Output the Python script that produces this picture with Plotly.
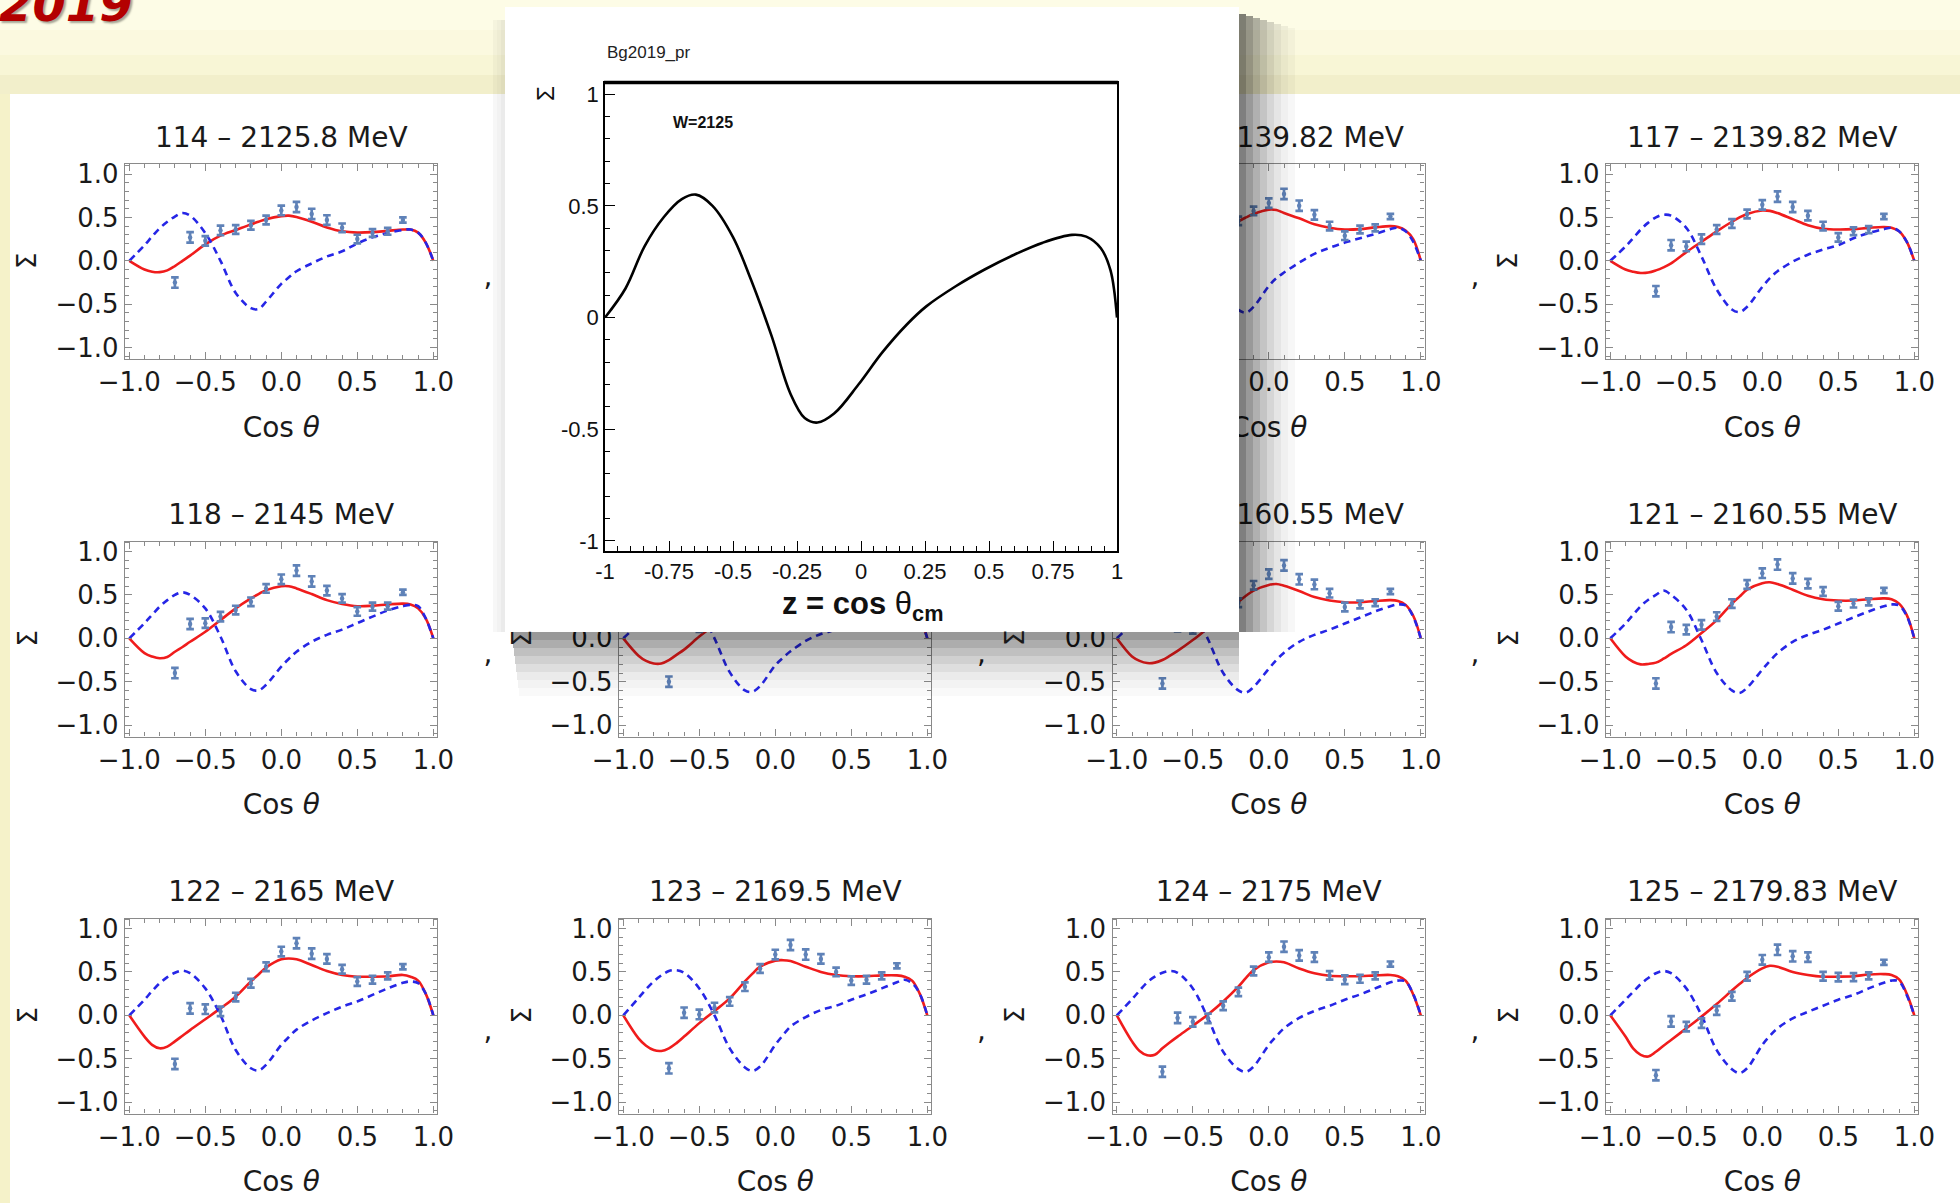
import plotly.graph_objects as go

W, H = 1960, 1203

# ---------------- data ----------------
CURVE_X = [-1, -0.9, -0.85, -0.8, -0.75, -0.7, -0.65, -0.6, -0.5, -0.4, -0.3, -0.2, -0.15, -0.1,
           0, 0.05, 0.1, 0.2, 0.3, 0.4, 0.5, 0.6, 0.7, 0.8, 0.85, 0.9, 0.95, 1.0]
DATA_X = [-0.7, -0.6, -0.5, -0.4, -0.3, -0.2, -0.1, 0.0, 0.1, 0.2, 0.3, 0.4, 0.5, 0.6, 0.7, 0.8]
DATA_ERR = [0.06, 0.06, 0.055, 0.055, 0.05, 0.05, 0.05, 0.055, 0.06, 0.06, 0.055, 0.05, 0.05, 0.045, 0.04, 0.03]

TITLES = ["114 – 2125.8 MeV", "115 – 2130 MeV", "116 – 2139.82 MeV", "117 – 2139.82 MeV",
          "118 – 2145 MeV", "119 – 2150 MeV", "120 – 2160.55 MeV", "121 – 2160.55 MeV",
          "122 – 2165 MeV", "123 – 2169.5 MeV", "124 – 2175 MeV", "125 – 2179.83 MeV"]
X_LABEL = "Cos <i>θ</i>"
Y_LABEL = "Σ"

RED_114 = [0, -0.10, -0.125, -0.13, -0.11, -0.06, 0.0, 0.06, 0.19, 0.29, 0.355, 0.42, 0.45, 0.48, 0.515, 0.52, 0.505, 0.45, 0.385, 0.34, 0.325, 0.33, 0.345, 0.36, 0.36, 0.325, 0.21, 0]
RED_115 = [0, -0.10, -0.125, -0.135, -0.12, -0.085, -0.04, 0.01, 0.14, 0.25, 0.35, 0.44, 0.475, 0.51, 0.55, 0.55, 0.53, 0.465, 0.40, 0.355, 0.34, 0.345, 0.36, 0.375, 0.37, 0.335, 0.215, 0]
RED_116 = [0, -0.09, -0.115, -0.13, -0.125, -0.10, -0.065, -0.02, 0.11, 0.23, 0.345, 0.455, 0.50, 0.54, 0.59, 0.585, 0.55, 0.49, 0.42, 0.38, 0.36, 0.365, 0.385, 0.40, 0.39, 0.35, 0.25, 0]
RED_117 = [0, -0.10, -0.125, -0.14, -0.135, -0.11, -0.075, -0.03, 0.10, 0.22, 0.34, 0.45, 0.50, 0.54, 0.58, 0.575, 0.55, 0.48, 0.41, 0.37, 0.36, 0.365, 0.38, 0.39, 0.38, 0.34, 0.22, 0]
RED_118 = [0, -0.17, -0.21, -0.23, -0.215, -0.155, -0.10, -0.04, 0.075, 0.21, 0.345, 0.46, 0.51, 0.555, 0.60, 0.60, 0.575, 0.51, 0.44, 0.395, 0.37, 0.375, 0.39, 0.40, 0.39, 0.345, 0.23, 0]
RED_119 = [0, -0.20, -0.26, -0.29, -0.29, -0.25, -0.19, -0.13, 0.02, 0.155, 0.29, 0.43, 0.50, 0.56, 0.62, 0.625, 0.605, 0.54, 0.47, 0.425, 0.40, 0.40, 0.415, 0.425, 0.415, 0.37, 0.25, 0]
RED_120 = [0, -0.21, -0.26, -0.285, -0.28, -0.25, -0.20, -0.145, -0.02, 0.12, 0.27, 0.42, 0.49, 0.55, 0.615, 0.625, 0.605, 0.545, 0.475, 0.435, 0.415, 0.415, 0.43, 0.44, 0.43, 0.385, 0.26, 0]
RED_121 = [0, -0.21, -0.27, -0.30, -0.295, -0.28, -0.235, -0.18, -0.08, 0.06, 0.21, 0.40, 0.48, 0.56, 0.635, 0.645, 0.625, 0.56, 0.49, 0.45, 0.435, 0.435, 0.45, 0.46, 0.45, 0.40, 0.27, 0]
RED_122 = [0, -0.245, -0.34, -0.38, -0.36, -0.30, -0.235, -0.17, -0.045, 0.08, 0.215, 0.39, 0.47, 0.55, 0.645, 0.655, 0.645, 0.58, 0.51, 0.465, 0.445, 0.445, 0.45, 0.465, 0.445, 0.40, 0.25, 0]
RED_123 = [0, -0.265, -0.35, -0.40, -0.41, -0.38, -0.32, -0.245, -0.09, 0.05, 0.195, 0.39, 0.48, 0.56, 0.63, 0.635, 0.625, 0.56, 0.50, 0.465, 0.45, 0.45, 0.46, 0.46, 0.445, 0.40, 0.25, 0]
RED_124 = [0, -0.30, -0.41, -0.46, -0.455, -0.38, -0.31, -0.245, -0.12, 0.01, 0.16, 0.33, 0.43, 0.52, 0.61, 0.62, 0.61, 0.54, 0.485, 0.455, 0.45, 0.45, 0.46, 0.465, 0.45, 0.40, 0.24, 0]
RED_125 = [0, -0.245, -0.38, -0.455, -0.475, -0.42, -0.35, -0.285, -0.15, -0.015, 0.13, 0.285, 0.36, 0.43, 0.54, 0.57, 0.56, 0.50, 0.465, 0.445, 0.445, 0.45, 0.47, 0.475, 0.465, 0.415, 0.25, 0]

BLUE_114 = [0, 0.18, 0.28, 0.375, 0.45, 0.51, 0.55, 0.52, 0.32, 0.0, -0.37, -0.545, -0.555, -0.47, -0.265, -0.19, -0.12, -0.03, 0.05, 0.11, 0.20, 0.27, 0.32, 0.355, 0.36, 0.325, 0.21, 0]
BLUE_115 = [0, 0.175, 0.27, 0.37, 0.445, 0.505, 0.54, 0.52, 0.35, 0.01, -0.35, -0.55, -0.57, -0.50, -0.28, -0.195, -0.125, -0.02, 0.06, 0.12, 0.19, 0.265, 0.32, 0.36, 0.37, 0.33, 0.215, 0]
BLUE_116 = [0, 0.17, 0.265, 0.365, 0.445, 0.505, 0.535, 0.52, 0.37, 0.04, -0.34, -0.565, -0.595, -0.53, -0.29, -0.20, -0.135, -0.02, 0.08, 0.15, 0.21, 0.26, 0.31, 0.365, 0.38, 0.34, 0.22, 0]
BLUE_117 = [0, 0.165, 0.26, 0.36, 0.44, 0.50, 0.53, 0.52, 0.38, 0.05, -0.33, -0.56, -0.59, -0.53, -0.30, -0.20, -0.12, -0.01, 0.07, 0.13, 0.18, 0.26, 0.32, 0.365, 0.38, 0.34, 0.22, 0]
BLUE_118 = [0, 0.175, 0.27, 0.365, 0.44, 0.50, 0.53, 0.50, 0.345, 0.02, -0.38, -0.585, -0.60, -0.535, -0.325, -0.235, -0.155, -0.04, 0.04, 0.10, 0.175, 0.25, 0.32, 0.37, 0.385, 0.37, 0.23, 0]
BLUE_119 = [0, 0.17, 0.27, 0.365, 0.44, 0.50, 0.53, 0.50, 0.34, 0.0, -0.39, -0.60, -0.615, -0.55, -0.31, -0.225, -0.15, -0.03, 0.05, 0.10, 0.17, 0.24, 0.31, 0.37, 0.385, 0.375, 0.24, 0]
BLUE_120 = [0, 0.17, 0.27, 0.37, 0.445, 0.50, 0.54, 0.50, 0.33, -0.01, -0.40, -0.60, -0.625, -0.56, -0.35, -0.25, -0.165, -0.04, 0.04, 0.10, 0.17, 0.24, 0.31, 0.37, 0.39, 0.38, 0.25, 0]
BLUE_121 = [0, 0.17, 0.27, 0.37, 0.445, 0.50, 0.55, 0.50, 0.33, -0.02, -0.40, -0.60, -0.63, -0.57, -0.36, -0.26, -0.17, -0.04, 0.04, 0.10, 0.17, 0.24, 0.31, 0.37, 0.39, 0.38, 0.26, 0]
BLUE_122 = [0, 0.18, 0.28, 0.37, 0.44, 0.49, 0.515, 0.485, 0.31, 0.0, -0.40, -0.61, -0.635, -0.57, -0.34, -0.25, -0.165, -0.06, 0.025, 0.10, 0.16, 0.235, 0.31, 0.375, 0.39, 0.37, 0.25, 0]
BLUE_123 = [0, 0.20, 0.30, 0.39, 0.46, 0.51, 0.52, 0.49, 0.31, 0.0, -0.38, -0.60, -0.64, -0.59, -0.34, -0.23, -0.13, -0.02, 0.06, 0.11, 0.18, 0.24, 0.31, 0.38, 0.41, 0.37, 0.25, 0]
BLUE_124 = [0, 0.185, 0.285, 0.38, 0.445, 0.49, 0.51, 0.49, 0.31, -0.035, -0.42, -0.62, -0.65, -0.59, -0.34, -0.24, -0.15, -0.03, 0.05, 0.11, 0.18, 0.24, 0.31, 0.38, 0.40, 0.39, 0.245, 0]
BLUE_125 = [0, 0.18, 0.27, 0.36, 0.43, 0.485, 0.51, 0.485, 0.31, 0.0, -0.40, -0.62, -0.665, -0.61, -0.34, -0.235, -0.15, -0.035, 0.04, 0.11, 0.18, 0.235, 0.31, 0.375, 0.40, 0.39, 0.235, 0]

DATA_114 = [-0.25, 0.27, 0.23, 0.35, 0.36, 0.41, 0.47, 0.58, 0.62, 0.54, 0.47, 0.38, 0.25, 0.32, 0.34, 0.47]
DATA_115 = [-0.28, 0.25, 0.20, 0.30, 0.36, 0.43, 0.50, 0.62, 0.68, 0.58, 0.50, 0.39, 0.26, 0.33, 0.35, 0.49]
DATA_116 = [-0.30, 0.21, 0.18, 0.27, 0.36, 0.46, 0.575, 0.665, 0.77, 0.635, 0.53, 0.40, 0.29, 0.36, 0.38, 0.51]
DATA_117 = [-0.35, 0.18, 0.165, 0.25, 0.36, 0.43, 0.54, 0.645, 0.74, 0.62, 0.52, 0.40, 0.27, 0.34, 0.36, 0.51]
DATA_118 = [-0.40, 0.165, 0.175, 0.25, 0.325, 0.42, 0.575, 0.68, 0.78, 0.655, 0.55, 0.46, 0.31, 0.365, 0.37, 0.53]
DATA_119 = [-0.50, 0.15, 0.13, 0.20, 0.28, 0.42, 0.60, 0.72, 0.82, 0.68, 0.60, 0.50, 0.34, 0.38, 0.40, 0.54]
DATA_120 = [-0.52, 0.14, 0.11, 0.17, 0.26, 0.41, 0.61, 0.74, 0.84, 0.68, 0.62, 0.52, 0.36, 0.39, 0.41, 0.54]
DATA_121 = [-0.52, 0.13, 0.10, 0.155, 0.25, 0.40, 0.62, 0.75, 0.85, 0.69, 0.63, 0.54, 0.37, 0.40, 0.42, 0.55]
DATA_122 = [-0.56, 0.08, 0.07, 0.045, 0.21, 0.37, 0.56, 0.735, 0.83, 0.71, 0.65, 0.53, 0.39, 0.41, 0.455, 0.56]
DATA_123 = [-0.61, 0.03, 0.01, 0.09, 0.16, 0.33, 0.54, 0.70, 0.81, 0.70, 0.65, 0.50, 0.40, 0.41, 0.455, 0.57]
DATA_124 = [-0.65, -0.03, -0.075, -0.035, 0.11, 0.27, 0.51, 0.67, 0.79, 0.69, 0.67, 0.46, 0.41, 0.42, 0.455, 0.59]
DATA_125 = [-0.69, -0.07, -0.13, -0.09, 0.055, 0.22, 0.45, 0.64, 0.755, 0.68, 0.67, 0.45, 0.44, 0.44, 0.455, 0.61]

RED = [RED_114, RED_115, RED_116, RED_117, RED_118, RED_119, RED_120, RED_121, RED_122, RED_123, RED_124, RED_125]
BLUE = [BLUE_114, BLUE_115, BLUE_116, BLUE_117, BLUE_118, BLUE_119, BLUE_120, BLUE_121, BLUE_122, BLUE_123, BLUE_124, BLUE_125]
DATA = [DATA_114, DATA_115, DATA_116, DATA_117, DATA_118, DATA_119, DATA_120, DATA_121, DATA_122, DATA_123, DATA_124, DATA_125]

# popup (W=2125) curve
POP_Z = [-1, -0.92, -0.845, -0.77, -0.70, -0.645, -0.58, -0.50, -0.43, -0.35, -0.276, -0.22, -0.17, -0.105,
         -0.01, 0.084, 0.18, 0.255, 0.37, 0.483, 0.596, 0.71, 0.824, 0.88, 0.937, 0.975, 1.0]
POP_S = [0, 0.13, 0.32, 0.45, 0.53, 0.55, 0.50, 0.36, 0.17, -0.08, -0.34, -0.45, -0.47, -0.43,
         -0.30, -0.155, -0.03, 0.05, 0.14, 0.215, 0.28, 0.335, 0.37, 0.362, 0.31, 0.21, 0.0]
POP_XTICKS = [-1, -0.75, -0.5, -0.25, 0, 0.25, 0.5, 0.75, 1]
POP_XLABELS = ["-1", "-0.75", "-0.5", "-0.25", "0", "0.25", "0.5", "0.75", "1"]
POP_YTICKS = [-1, -0.5, 0, 0.5, 1]
POP_YLABELS = ["-1", "-0.5", "0", "0.5", "1"]

# ---------------- style / geometry ----------------
FONT = "DejaVu Sans"
FS = 28
TXT_C = "#1a1a1a"
FRAME_C = "#8a8a8a"
RED_C = "#f01c1c"
BLUE_C = "#2626e6"
PT_C = "#5f82b8"

COL_L = [125, 619, 1112.5, 1606]
ROW_T = [164, 541.5, 918.5]
FW, FH = 312, 195
XR = [-1 - 4.3 / 152, -1 + 307.7 / 152]
YR = [1 - 185 / 86.82, 1 + 10 / 86.82]
PPX = FW / (XR[1] - XR[0])
PPY = FH / (YR[1] - YR[0])
HIDDEN_TEXT = (1, 5)          # panels whose title / axis label lie fully under the popup


def fx(px):
    return px / W


def fy(py):
    return 1 - py / H


def marker_size_for_offset(r):
    # plotly offsets text by r = radius/0.8 + 1 from its point
    return 2 * (r - 1) * 0.8


fig = go.Figure()
layout_axes = {}
annotations = []
shapes = []
EPS = 1e-4

for i in range(12):
    r, c = divmod(i, 4)
    n = i + 1
    L, T = COL_L[c], ROW_T[r]
    xa = "x" if n == 1 else f"x{n}"
    ya = "y" if n == 1 else f"y{n}"
    common = dict(xaxis=xa, yaxis=ya, hoverinfo="skip", showlegend=False)
    fig.add_trace(go.Scatter(x=CURVE_X, y=RED[i], mode="lines",
                             line=dict(color=RED_C, width=2.6, shape="spline", smoothing=1.0), **common))
    fig.add_trace(go.Scatter(x=CURVE_X, y=BLUE[i], mode="lines",
                             line=dict(color=BLUE_C, width=2.6, dash="7px,5px", shape="spline", smoothing=1.0),
                             **common))
    fig.add_trace(go.Scatter(x=DATA_X, y=DATA[i], mode="markers",
                             marker=dict(size=4.5, color=PT_C),
                             error_y=dict(type="data", array=DATA_ERR, color=PT_C, thickness=2.7, width=3.8),
                             **common))
    # texts anchored at points on the frame edge, pushed out with invisible markers
    tx, ty, tt, tp, ts = [], [], [], [], []
    if i not in HIDDEN_TEXT:
        base_title = -27.5 + 0.3645 * FS              # baseline offset from frame top
        tx.append(0); ty.append(YR[1] - EPS); tt.append(TITLES[i]); tp.append("top center")
        ts.append(marker_size_for_offset(-base_title - 0.25 * FS))
        base_x = 67.5 + 0.3645 * FS                    # baseline offset below frame bottom
        tx.append(0); ty.append(YR[0] + EPS); tt.append(X_LABEL); tp.append("bottom center")
        ts.append(marker_size_for_offset(base_x - 0.75 * FS))
    if c > 0:
        tx.append(XR[0] + EPS); ty.append(-17.8 / PPY); tt.append(","); tp.append("middle left")
        ts.append(marker_size_for_offset(126.7))
    if tx:
        fig.add_trace(go.Scatter(x=tx, y=ty, text=tt, mode="markers+text", textposition=tp, cliponaxis=False,
                                 marker=dict(size=ts, opacity=0, color="white"),
                                 textfont=dict(family=FONT, size=FS, color=TXT_C), **common))

    ax = dict(showline=True, linecolor=FRAME_C, linewidth=1.3, mirror="allticks",
              ticks="inside", ticklen=7, tickwidth=1.2, tickcolor=FRAME_C,
              showgrid=False, zeroline=False, tickmode="linear", tick0=0, dtick=0.5,
              tickformat=".1f", tickfont=dict(family=FONT, size=26, color=TXT_C),
              minor=dict(ticks="inside", tick0=0, dtick=0.1, ticklen=4, tickwidth=1, tickcolor=FRAME_C),
              automargin=False, fixedrange=True)
    xlab = i != 1
    ylab = i not in (1, 2)
    layout_axes["xaxis" if n == 1 else f"xaxis{n}"] = dict(domain=[fx(L), fx(L + FW)], range=XR, anchor=ya,
                                                           showticklabels=xlab, **ax)
    layout_axes["yaxis" if n == 1 else f"yaxis{n}"] = dict(domain=[fy(T + FH), fy(T)], range=YR, anchor=xa,
                                                           showticklabels=ylab, **ax)

    if i not in (1, 2):
        annotations.append(dict(x=fx(L - 98), y=fy(T + 97), xref="paper", yref="paper", text=Y_LABEL,
                                textangle=-90, showarrow=False, xanchor="center", yanchor="middle",
                                font=dict(family=FONT, size=26, color=TXT_C)))

# popup white box (inset subplot 13, its background is drawn above the panels below it)
fig.add_trace(go.Scatter(x=[None], y=[None], xaxis="x13", yaxis="y13", mode="lines",
                         hoverinfo="skip", showlegend=False))
layout_axes["xaxis13"] = dict(domain=[fx(505), fx(1239)], range=[0, 1], visible=False, anchor="y13",
                              fixedrange=True, automargin=False)
layout_axes["yaxis13"] = dict(domain=[fy(632), fy(7)], range=[0, 1], visible=False, anchor="x13",
                              fixedrange=True, automargin=False)

# popup plot (subplot 14)
fig.add_trace(go.Scatter(x=POP_Z, y=POP_S, mode="lines", xaxis="x14", yaxis="y14",
                         line=dict(color="black", width=2.6, shape="spline", smoothing=1.0),
                         hoverinfo="skip", showlegend=False))
pfont = dict(family="Liberation Sans, Arial", size=22, color="#111")
layout_axes["xaxis14"] = dict(domain=[fx(605), fx(1117)], range=[-1, 1], anchor="y14",
                              showline=True, linecolor="black", linewidth=1.6, mirror=True,
                              ticks="inside", ticklen=10, tickwidth=1.4, tickcolor="black",
                              tickmode="array", tickvals=POP_XTICKS, ticktext=POP_XLABELS, tickfont=pfont,
                              minor=dict(ticks="inside", tick0=0, dtick=0.05, ticklen=5, tickwidth=1.1, tickcolor="black"),
                              showgrid=False, zeroline=False, fixedrange=True, automargin=False)
layout_axes["yaxis14"] = dict(domain=[fy(551), fy(82.5)], range=[-1.045, 1.052], anchor="x14",
                              showline=True, linecolor="black", linewidth=1.6, mirror=True,
                              ticks="inside", ticklen=10, tickwidth=1.4, tickcolor="black",
                              tickmode="array", tickvals=POP_YTICKS, ticktext=POP_YLABELS, tickfont=pfont,
                              minor=dict(ticks="inside", tick0=0, dtick=0.1, ticklen=5, tickwidth=1.1, tickcolor="black"),
                              showgrid=False, zeroline=False, fixedrange=True, automargin=False)

# popup texts
annotations += [
    dict(x=fx(605), y=fy(52), xref="paper", yref="paper", text="Bg2019_pr", showarrow=False,
         xanchor="left", yanchor="middle", font=dict(family="Liberation Sans, Arial", size=17, color="#222")),
    dict(x=fx(671), y=fy(122), xref="paper", yref="paper", text="<b>W=2125</b>", showarrow=False,
         xanchor="left", yanchor="middle", font=dict(family="Liberation Sans, Arial", size=16, color="#111")),
    dict(x=fx(546), y=fy(94), xref="paper", yref="paper", text="Σ", textangle=-90, showarrow=False,
         xanchor="center", yanchor="middle", font=dict(family="Liberation Sans, Arial", size=24, color="#111")),
    dict(x=fx(862), y=fy(606), xref="paper", yref="paper",
         text="<b>z = cos </b>θ<sub><b>cm</b></sub>", showarrow=False,
         xanchor="center", yanchor="middle", font=dict(family="Liberation Sans, Arial", size=31, color="#111")),
    dict(x=fx(-3), y=fy(34), xref="paper", yref="paper", text="<b><i>2019</i></b>", showarrow=False,
         xanchor="left", yanchor="bottom",
         font=dict(family="DejaVu Sans", size=48, color="#b30000", shadow="2px 2px 2px rgba(0,0,0,0.35)")),
]

# background
bands = [(0, 30, "#fdfce6"), (30, 55, "#fbf9df"), (55, 75, "#f8f6d6"), (75, 94, "#f2efcb")]
for y0, y1, col in bands:
    shapes.append(dict(type="rect", xref="paper", yref="paper", x0=0, x1=1, y0=fy(y1), y1=fy(y0),
                       fillcolor=col, line=dict(width=0), layer="below"))
shapes.append(dict(type="rect", xref="paper", yref="paper", x0=fx(10), x1=1, y0=0, y1=fy(94),
                   fillcolor="white", line=dict(width=0), layer="below"))

# popup shadow
OP = [0.5, 0.4, 0.31, 0.23, 0.16, 0.1, 0.06, 0.03]
for k, op in enumerate(OP):
    shapes.append(dict(type="rect", xref="paper", yref="paper", x0=fx(1239 + 7 * k), x1=fx(1246 + 7 * k),
                       y0=fy(632), y1=fy(14 + 2 * k), fillcolor="black", opacity=op, line=dict(width=0), layer="above"))
    shapes.append(dict(type="rect", xref="paper", yref="paper", x0=fx(512 + k), x1=fx(1239),
                       y0=fy(640 + 8 * k), y1=fy(632 + 8 * k), fillcolor="black", opacity=op * 0.8,
                       line=dict(width=0), layer="above"))
for k, op in enumerate([0.08, 0.05, 0.03]):
    shapes.append(dict(type="rect", xref="paper", yref="paper", x0=fx(505 - 4 * (k + 1)), x1=fx(505 - 4 * k),
                       y0=fy(632), y1=fy(20), fillcolor="black", opacity=op, line=dict(width=0), layer="above"))
# thick top border of the popup frame
shapes.append(dict(type="line", xref="paper", yref="paper", x0=fx(604), x1=fx(1118), y0=fy(82.5), y1=fy(82.5),
                   line=dict(color="black", width=3.5), layer="above"))

fig.update_layout(
    template="none",
    width=W, height=H, autosize=False,
    margin=dict(l=0, r=0, t=0, b=0, pad=0, autoexpand=False),
    paper_bgcolor="#f5f2c9", plot_bgcolor="white",
    showlegend=False,
    annotations=annotations, shapes=shapes,
    **layout_axes,
)

fig.write_html("out.html", config={"displayModeBar": False})
